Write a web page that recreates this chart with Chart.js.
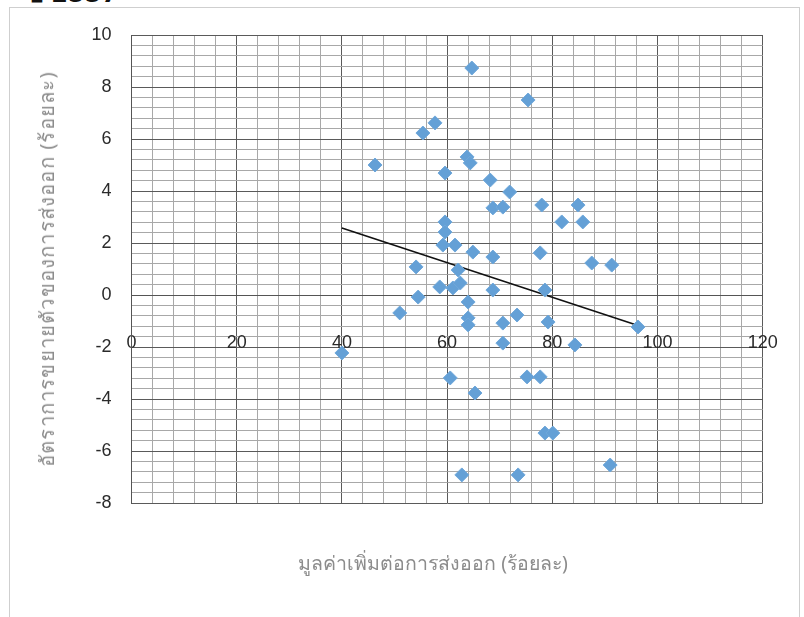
<!DOCTYPE html>
<html>
<head>
<meta charset="utf-8">
<script src="https://cdn.jsdelivr.net/npm/chart.js@4.4.1/dist/chart.umd.min.js"></script>
<style>
  html, body { margin: 0; padding: 0; background: #ffffff; width: 804px; height: 617px; overflow: hidden; }
  #wrap { position: relative; width: 804px; height: 617px; }
  #frame { position: absolute; left: 9px; top: 7px; width: 791px; height: 640px; border: 1px solid #cfcfcf; box-sizing: border-box; }
  #cut { position: absolute; left: 28px; top: -26px; font: bold 24px "DejaVu Sans", sans-serif; color: #111; white-space: nowrap; }
  #xt { position: absolute; left: 433px; top: 563px; transform: translate(-50%, -50%); font: 19.5px "Noto Sans", "DejaVu Sans", sans-serif; color: #8c8c8c; white-space: nowrap; }
  #yt { position: absolute; left: 47px; top: 269px; transform: translate(-50%, -50%) rotate(-90deg); font: 20px "Noto Sans", "DejaVu Sans", sans-serif; letter-spacing: 1.2px; color: #8c8c8c; white-space: nowrap; }
  canvas { position: absolute; left: 0; top: 0; }
</style>
</head>
<body>
<div id="wrap">
  <div id="cut">ปี 2557</div>
  <div id="frame"></div>
  <canvas id="c" width="804" height="617"></canvas>
  <div id="xt">มูลค่าเพิ่มต่อการส่งออก (ร้อยละ)</div>
  <div id="yt">อัตราการขยายตัวของการส่งออก (ร้อยละ)</div>
</div>
<script>
// Scatter points: x = value added per export (%), y = export growth (%)
const xValues = [64.7, 75.4, 57.7, 55.4, 46.3, 63.8, 64.4, 59.6, 68.2, 71.9,
                 68.7, 70.6, 78.0, 84.9, 81.8, 85.8, 59.6, 59.6, 59.2, 61.5,
                 64.9, 68.7, 77.7, 87.5, 91.3, 54.1, 62.1, 58.6, 61.1, 62.5,
                 54.5, 68.7, 78.6, 64.0, 51.0, 64.0, 64.0, 70.6, 73.3, 79.2,
                 70.6, 84.3, 96.3, 40.0, 60.6, 75.2, 77.7, 65.3, 78.6, 80.1,
                 62.8, 73.5, 91.0];
const yValues = [8.73, 7.5, 6.62, 6.23, 5.0, 5.31, 5.08, 4.69, 4.42, 3.96,
                 3.35, 3.38, 3.46, 3.46, 2.81, 2.81, 2.81, 2.42, 1.92, 1.92,
                 1.65, 1.46, 1.62, 1.23, 1.15, 1.08, 0.96, 0.31, 0.27, 0.46,
                 -0.08, 0.19, 0.19, -0.27, -0.69, -0.88, -1.15, -1.08, -0.77, -1.04,
                 -1.85, -1.92, -1.23, -2.23, -3.19, -3.15, -3.15, -3.77, -5.31, -5.31,
                 -6.92, -6.92, -6.54];
// Trend line end points
const trendX = [40, 96.3];
const trendY = [2.58, -1.17];
// Axis ranges and tick labels
const xTickLabels = [0, 20, 40, 60, 80, 100, 120];
const yTickLabels = [10, 8, 6, 4, 2, 0, -2, -4, -6, -8];

const points = xValues.map((x, i) => ({ x: x, y: yValues[i] }));
const trend = trendX.map((x, i) => ({ x: x, y: trendY[i] }));

function isMajor(v, step) { const r = v / step; return Math.abs(r - Math.round(r)) < 1e-6; }

new Chart(document.getElementById('c'), {
  type: 'scatter',
  data: {
    datasets: [
      {
        label: 'data',
        data: points,
        pointStyle: 'rectRot',
        pointRadius: 7,
        pointHoverRadius: 7,
        backgroundColor: '#64a0d6',
        borderColor: '#70a8da',
        borderWidth: 1
      },
      {
        type: 'line',
        label: 'trend',
        data: trend,
        borderColor: '#111111',
        borderWidth: 1.6,
        pointRadius: 0,
        fill: false,
        tension: 0
      }
    ]
  },
  options: {
    responsive: false,
    animation: false,
    events: [],
    layout: { padding: { left: 91.5, right: 41.3, top: 35, bottom: 114 } },
    plugins: { legend: { display: false }, tooltip: { enabled: false } },
    scales: {
      x: {
        type: 'linear',
        position: { y: 0 },
        min: xTickLabels[0],
        max: xTickLabels[xTickLabels.length - 1],
        afterFit: s => { s.height = 0; s.paddingLeft = 0; s.paddingRight = 0; },
        border: { display: true, color: '#555555', width: 1 },
        grid: {
          drawTicks: false,
          color: ctx => isMajor(ctx.tick.value, 20) ? '#5a5a5a' : '#a8a8a8',
          lineWidth: 1
        },
        ticks: {
          stepSize: 4,
          autoSkip: false,
          maxRotation: 0,
          padding: 37,
          color: '#2a2a2a',
          font: { family: 'Liberation Sans', size: 18 },
          callback: v => (isMajor(v, 20) && xTickLabels.includes(Math.round(v))) ? String(Math.round(v)) : ''
        }
      },
      y: {
        type: 'linear',
        min: yTickLabels[yTickLabels.length - 1],
        max: yTickLabels[0],
        afterFit: s => { s.width = 40; s.paddingTop = 0; s.paddingBottom = 0; },
        border: { display: true, color: '#555555', width: 1 },
        grid: {
          drawTicks: false,
          color: ctx => isMajor(ctx.tick.value, 2) ? '#5a5a5a' : '#a8a8a8',
          lineWidth: 1
        },
        ticks: {
          stepSize: 0.4,
          autoSkip: false,
          padding: 20,
          color: '#2a2a2a',
          font: { family: 'Liberation Sans', size: 18 },
          callback: v => (isMajor(v, 2) && yTickLabels.includes(Math.round(v))) ? String(Math.round(v)) : ''
        }
      }
    }
  }
});
</script>
</body>
</html>
